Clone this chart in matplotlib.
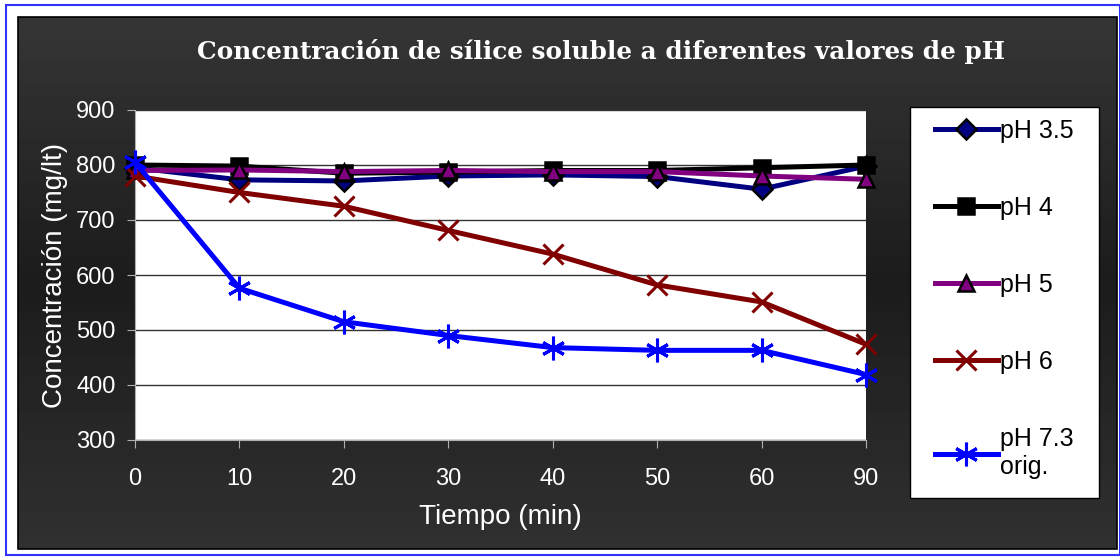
import numpy as np
import matplotlib.pyplot as plt
from matplotlib.patches import Rectangle

# ---------- data ----------
tiempo = ["0", "10", "20", "30", "40", "50", "60", "90"]
ph35 = [795, 773, 771, 780, 782, 779, 756, 798]
ph4 = [800, 798, 785, 787, 790, 790, 795, 800]
ph5 = [790, 791, 788, 790, 788, 788, 780, 774]
ph6 = [780, 750, 725, 681, 638, 582, 551, 474]
ph73 = [805, 576, 515, 490, 468, 463, 463, 419]

series = [
    ("pH 3.5", ph35, "#000080", "D", "black", 10),
    ("pH 4", ph4, "black", "s", "black", 11),
    ("pH 5", ph5, "#800080", "^", "black", 12),
    ("pH 6", ph6, "#800000", "x", "#800000", 14),
    ("pH 7.3\norig.", ph73, "#0000ff", (6, 2, 0), "#0000ff", 17),
]

fig = plt.figure(figsize=(11.2, 5.6), dpi=100)
fig.patch.set_facecolor("white")
plt.rcParams["font.family"] = ["Liberation Sans", "DejaVu Sans"]

# outer blue frame, dark gradient background, legend box
bg = fig.add_axes([0, 0, 1, 1])
bg.set_xlim(0, 1120)
bg.set_ylim(560, 0)
bg.axis("off")
bg.add_patch(Rectangle((6, 5), 1114, 550, fill=False, ec="#3030ff", lw=1.5))
grad = np.concatenate([np.linspace(0.21, 0.11, 50), np.linspace(0.11, 0.19, 50)])
bg.imshow(np.tile(grad[:, None], (1, 2)), cmap="gray", vmin=0, vmax=1,
          extent=[18, 1117, 549, 17], aspect="auto", zorder=1)
bg.add_patch(Rectangle((18, 17), 1099, 532, fill=False, ec="black", lw=1.2, zorder=2))
bg.add_patch(Rectangle((910, 107), 189, 391, fc="white", ec="black", lw=1, zorder=2))

ax = fig.add_axes([135 / 1120, 1 - 440 / 560, 731 / 1120, 330 / 560])
ax.set_facecolor("white")
x = np.arange(len(tiempo))
for label, vals, col, mk, mec, ms in series:
    thin = mk == "x" or isinstance(mk, tuple)
    ax.plot(x, vals, color=col, lw=3.6, marker=mk, markersize=ms,
            markerfacecolor=col, markeredgecolor=mec,
            markeredgewidth=2.2 if thin else 1.8,
            label=label, clip_on=False, zorder=3)

ax.set_xlim(0, len(tiempo) - 1)
ax.set_ylim(300, 900)
ax.set_xticks(x)
ax.set_xticklabels(tiempo)
ax.set_yticks(range(300, 901, 100))
ax.yaxis.grid(True, color="#333333", lw=1)
ax.set_axisbelow(True)
for s in ["top", "right"]:
    ax.spines[s].set_visible(False)
for s in ["left", "bottom"]:
    ax.spines[s].set_color("#b0b0b0")
ax.tick_params(colors="#b0b0b0", labelcolor="white", labelsize=17, length=6,
               direction="out")
ax.tick_params(axis="y", pad=8)
ax.tick_params(axis="x", pad=14)
ax.set_xlabel("Tiempo (min)", color="white", fontsize=20, labelpad=10)
ax.set_ylabel("Concentración (mg/lt)", color="white", fontsize=20, labelpad=6)

fig.text(0.537, 1 - 52 / 560, "Concentración de sílice soluble a diferentes valores de pH",
         color="white", fontsize=17.8, fontweight="heavy", family="DejaVu Serif",
         ha="center", va="center")

leg = fig.legend(loc="upper left", bbox_to_anchor=(935 / 1120, 1 - 119 / 560),
                 frameon=False, fontsize=18, labelspacing=2.12, handlelength=2.5,
                 handletextpad=0.1, borderpad=0, borderaxespad=0)

fig.savefig("out.png", dpi=100)
